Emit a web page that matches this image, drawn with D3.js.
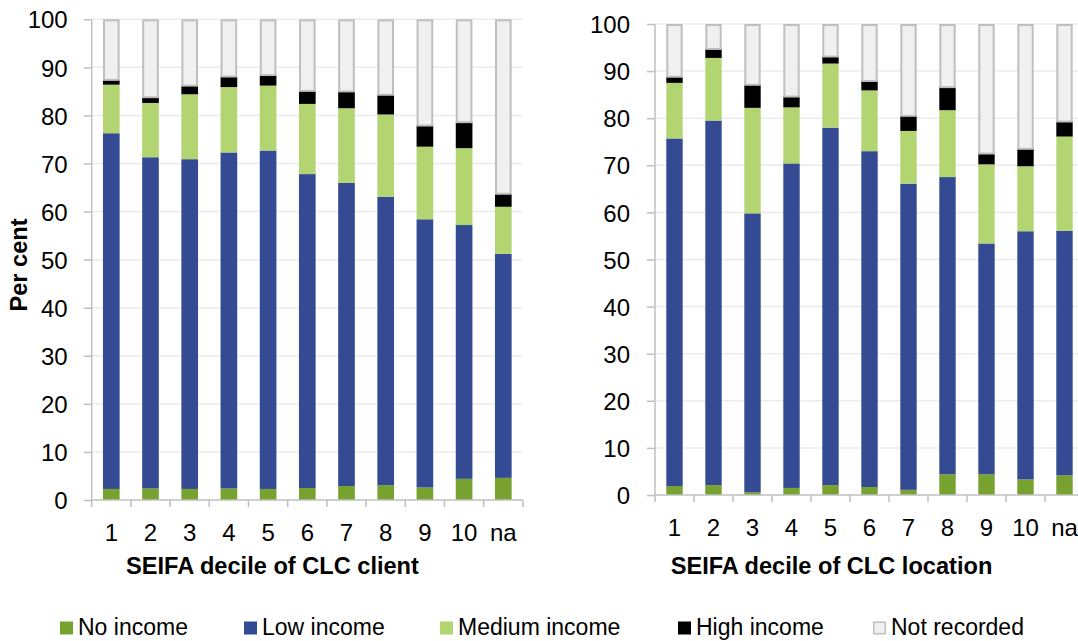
<!DOCTYPE html>
<html>
<head>
<meta charset="utf-8">
<script src="https://cdn.jsdelivr.net/npm/d3@7"></script>
<style>
  html, body { margin: 0; padding: 0; background: #fff; }
  svg { display: block; font-family: "Liberation Sans", Arial, sans-serif; }
</style>
</head>
<body>
<svg id="chart" width="1078" height="641"></svg>
<script>
// Income level of CLC clients, by SEIFA decile (per cent)
const deciles = ["1", "2", "3", "4", "5", "6", "7", "8", "9", "10", "na"];
const seriesNames = ["No income", "Low income", "Medium income", "High income", "Not recorded"];
const yTicks = [0, 10, 20, 30, 40, 50, 60, 70, 80, 90, 100];

// SEIFA decile of CLC client
const clientNoIncome     = [2.3, 2.4, 2.3, 2.4, 2.3, 2.5, 2.9, 3.1, 2.6, 4.4, 4.6];
const clientLowIncome    = [74.0, 68.9, 68.6, 69.9, 70.4, 65.3, 63.1, 60.0, 55.8, 52.8, 46.6];
const clientMediumIncome = [10.1, 11.3, 13.5, 13.6, 13.5, 14.6, 15.5, 17.1, 15.1, 16.0, 9.8];
const clientHighIncome   = [1.0, 1.2, 1.8, 2.2, 2.2, 2.7, 3.5, 4.1, 4.4, 5.4, 2.7];
const clientNotRecorded  = [12.6, 16.2, 13.8, 11.9, 11.6, 14.9, 15.0, 15.7, 22.1, 21.4, 36.3];

// SEIFA decile of CLC location
const locationNoIncome     = [1.9, 2.1, 0.6, 1.5, 2.1, 1.7, 1.1, 4.4, 4.4, 3.3, 4.2];
const locationLowIncome    = [73.8, 77.4, 59.2, 68.9, 75.9, 71.3, 65.0, 63.1, 49.0, 52.7, 51.9];
const locationMediumIncome = [11.8, 13.3, 22.4, 11.9, 13.6, 12.9, 11.2, 14.2, 16.8, 13.8, 20.0];
const locationHighIncome   = [1.3, 1.9, 4.9, 2.3, 1.5, 2.0, 3.2, 4.9, 2.3, 3.7, 3.2];
const locationNotRecorded  = [11.2, 5.3, 12.9, 15.4, 6.9, 12.1, 19.5, 13.4, 27.5, 26.5, 20.7];

const colors = {
  "No income": "#77A22F",
  "Low income": "#344A93",
  "Medium income": "#B2D572",
  "High income": "#000000",
  "Not recorded": "#F0F0F0"
};

function rows(no, low, med, high, nr) {
  return deciles.map((d, i) => ({
    decile: d,
    "No income": no[i],
    "Low income": low[i],
    "Medium income": med[i],
    "High income": high[i],
    "Not recorded": nr[i]
  }));
}

const panels = [
  {
    title: "SEIFA decile of CLC client",
    data: rows(clientNoIncome, clientLowIncome, clientMediumIncome, clientHighIncome, clientNotRecorded),
    left: 91.7, right: 522.9, top: 19.3, bottom: 500,
    padding: 0.575, titleX: 272.5, yLabelGap: 16
  },
  {
    title: "SEIFA decile of CLC location",
    data: rows(locationNoIncome, locationLowIncome, locationMediumIncome, locationHighIncome, locationNotRecorded),
    left: 655, right: 1084, top: 24, bottom: 495,
    padding: 0.58, titleX: 831.5, yLabelGap: 17
  }
];

const svg = d3.select("#chart");
const axisColor = "#BFBFBF";
const gridColor = "#EBEBEB";

panels.forEach(p => {
  const g = svg.append("g");

  const x = d3.scaleBand()
    .domain(deciles)
    .range([p.left, p.right])
    .paddingInner(p.padding)
    .paddingOuter(p.padding / 2);

  const y = d3.scaleLinear().domain([0, 100]).range([p.bottom, p.top]);

  // horizontal gridlines
  g.append("g")
    .selectAll("line")
    .data(yTicks.filter(t => t > 0))
    .join("line")
    .attr("x1", p.left).attr("x2", p.right)
    .attr("y1", d => y(d)).attr("y2", d => y(d))
    .attr("stroke", gridColor)
    .attr("stroke-width", 1.5);

  // stacked bars
  const stacked = d3.stack().keys(seriesNames)(p.data);
  stacked.forEach(layer => {
    const name = layer.key;
    const isNR = name === "Not recorded";
    g.append("g")
      .selectAll("rect")
      .data(layer)
      .join("rect")
      .attr("x", d => x(d.data.decile) + (isNR ? 1 : 0))
      .attr("width", x.bandwidth() - (isNR ? 2 : 0))
      .attr("y", d => y(d[1]) + (isNR ? 1 : 0))
      .attr("height", d => Math.max(0, y(d[0]) - y(d[1]) - (isNR ? 1 : 0)))
      .attr("fill", colors[name])
      .attr("stroke", isNR ? axisColor : "none")
      .attr("stroke-width", isNR ? 2 : 0);
  });

  // y axis
  const yAxis = d3.axisLeft(y)
    .tickValues(yTicks)
    .tickSize(8)
    .tickPadding(p.yLabelGap)
    .tickFormat(d3.format("d"));
  const ya = g.append("g")
    .attr("transform", `translate(${p.left},0)`)
    .call(yAxis);
  ya.select(".domain").attr("stroke", axisColor).attr("stroke-width", 1.5)
    .attr("d", `M0,${p.top}V${p.bottom}`);
  ya.selectAll(".tick line").attr("stroke", axisColor).attr("stroke-width", 1.5);
  ya.selectAll(".tick text")
    .attr("fill", "#000")
    .style("font-size", "24px")
    .attr("dy", "0.36em");

  // x axis baseline and boundary ticks
  g.append("line")
    .attr("x1", p.left).attr("x2", p.right)
    .attr("y1", p.bottom).attr("y2", p.bottom)
    .attr("stroke", axisColor).attr("stroke-width", 1.5);
  const bounds = d3.range(deciles.length + 1).map(i => p.left + i * x.step());
  g.append("g")
    .selectAll("line")
    .data(bounds)
    .join("line")
    .attr("x1", d => d).attr("x2", d => d)
    .attr("y1", p.bottom).attr("y2", p.bottom + 7)
    .attr("stroke", axisColor).attr("stroke-width", 1.5);

  // category labels
  const xAxis = d3.axisBottom(x).tickSize(0).tickPadding(0);
  const xa = g.append("g")
    .attr("transform", `translate(0,${p.bottom})`)
    .call(xAxis);
  xa.select(".domain").remove();
  xa.selectAll(".tick text")
    .attr("fill", "#000")
    .attr("y", 41)
    .attr("dy", 0)
    .style("font-size", "24px");

  // axis title
  g.append("text")
    .attr("x", p.titleX)
    .attr("y", 574)
    .attr("text-anchor", "middle")
    .style("font-size", "23.6px")
    .style("font-weight", "bold")
    .text(p.title);
});

// y axis title
svg.append("text")
  .attr("transform", "translate(27,265) rotate(-90)")
  .attr("text-anchor", "middle")
  .style("font-size", "23.6px")
  .style("font-weight", "bold")
  .text("Per cent");

// legend
const legendX = [60, 244, 440, 678, 873];
const legend = svg.append("g");
seriesNames.forEach((name, i) => {
  const item = legend.append("g").attr("transform", `translate(${legendX[i]},0)`);
  item.append("rect")
    .attr("x", name === "Not recorded" ? 0.75 : 0)
    .attr("y", name === "Not recorded" ? 622.2 : 621.5)
    .attr("width", name === "Not recorded" ? 11.5 : 13)
    .attr("height", name === "Not recorded" ? 11.5 : 13)
    .attr("fill", colors[name])
    .attr("stroke", name === "Not recorded" ? axisColor : "none")
    .attr("stroke-width", 1.5);
  item.append("text")
    .attr("x", 18)
    .attr("y", 634.5)
    .style("font-size", "23px")
    .attr("fill", "#000")
    .text(name);
});
</script>
</body>
</html>
